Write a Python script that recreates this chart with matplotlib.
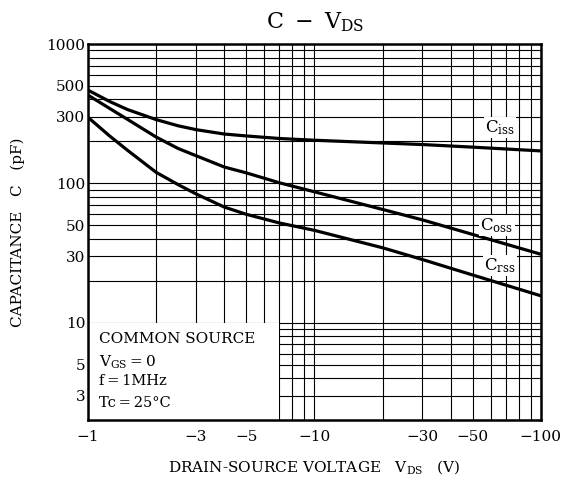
import matplotlib
matplotlib.use('Agg')
import matplotlib.pyplot as plt
from matplotlib.patches import Rectangle
from matplotlib.ticker import FixedLocator, NullFormatter

plt.rcParams['font.family'] = ['DejaVu Serif']
plt.rcParams['mathtext.fontset'] = 'dejavuserif'

# data (V_DS magnitude in V, capacitance in pF)
vds = [1, 1.25, 1.5, 2, 2.5, 3, 4, 5, 7, 10, 20, 30, 50, 100]
ciss = [467, 386, 338, 287, 259, 243, 226, 219, 210, 204, 195, 190, 182, 171]
coss = [430, 344, 287, 215, 178, 158, 131, 119, 101, 87, 65, 54.7, 43, 31]
crss = [298, 218, 172, 120, 98, 84, 67.6, 60, 52, 46, 34.5, 28.4, 22, 15.6]

xticks = [1, 3, 5, 10, 30, 50, 100]
xlabels = ['\u22121', '\u22123', '\u22125', '\u221210', '\u221230', '\u221250', '\u2212100']
yticks = [3, 5, 10, 30, 50, 100, 300, 500, 1000]

fig = plt.figure(figsize=(5.64, 4.84), dpi=100)
ax = fig.add_axes([0.156, 0.132, 0.803, 0.777])
ax.set_xscale('log')
ax.set_yscale('log')
ax.set_xlim(1, 100)
ax.set_ylim(2, 1000)

ax.plot(vds, ciss, color='black', lw=2.3, zorder=4, solid_joinstyle='round')
ax.plot(vds, coss, color='black', lw=2.3, zorder=4, solid_joinstyle='round')
ax.plot(vds, crss, color='black', lw=2.3, zorder=4, solid_joinstyle='round')

ax.xaxis.set_major_locator(FixedLocator(xticks))
ax.set_xticklabels(xlabels)
ax.yaxis.set_major_locator(FixedLocator(yticks))
ax.set_yticklabels([str(v) for v in yticks])
minors = [m * 10 ** e for e in range(0, 3) for m in range(1, 10)]
ax.xaxis.set_minor_locator(FixedLocator(minors))
ax.yaxis.set_minor_locator(FixedLocator(minors))
ax.xaxis.set_minor_formatter(NullFormatter())
ax.yaxis.set_minor_formatter(NullFormatter())
ax.tick_params(which='both', length=0, labelsize=11)
ax.tick_params(axis='x', pad=7)
ax.tick_params(axis='y', pad=2)
ax.grid(which='both', color='black', lw=0.8)
for s in ax.spines.values():
    s.set_linewidth(1.8)

# condition box covers the grid in the lower left
ax.add_patch(Rectangle((1, 2), 6, 8, facecolor='white', edgecolor='none', zorder=2))
ax.text(1.12, 7.1, 'COMMON SOURCE', fontsize=11, zorder=5)
ax.text(1.12, 4.85, r'$\mathregular{V_{GS}=0}$', fontsize=11, zorder=5)
ax.text(1.12, 3.55, 'f\u2009=\u20091MHz', fontsize=10.5, zorder=5)
ax.text(1.12, 2.5, 'Tc\u2009=\u200925\u00b0C', fontsize=10.5, zorder=5)

box = dict(facecolor='white', edgecolor='none', pad=1)
ax.text(66, 253, r'$\mathregular{C_{iss}}$', fontsize=12, ha='center', va='center', bbox=box, zorder=5)
ax.text(64, 50, r'$\mathregular{C_{oss}}$', fontsize=12, ha='center', va='center', bbox=box, zorder=5)
ax.text(66, 25.7, r'$\mathregular{C_{rss}}$', fontsize=12, ha='center', va='center', bbox=box, zorder=5)

fig.text(0.558, 0.955, r'$\mathregular{C\ -\ V_{DS}}$', fontsize=16, ha='center', va='center')
fig.text(0.558, 0.035, r'DRAIN-SOURCE VOLTAGE   $\mathregular{V_{DS}}$   (V)', fontsize=11, ha='center', va='center')
fig.text(0.032, 0.52, 'CAPACITANCE   C   (pF)', fontsize=11, rotation=90, ha='center', va='center')

fig.savefig('out.png', dpi=100)
